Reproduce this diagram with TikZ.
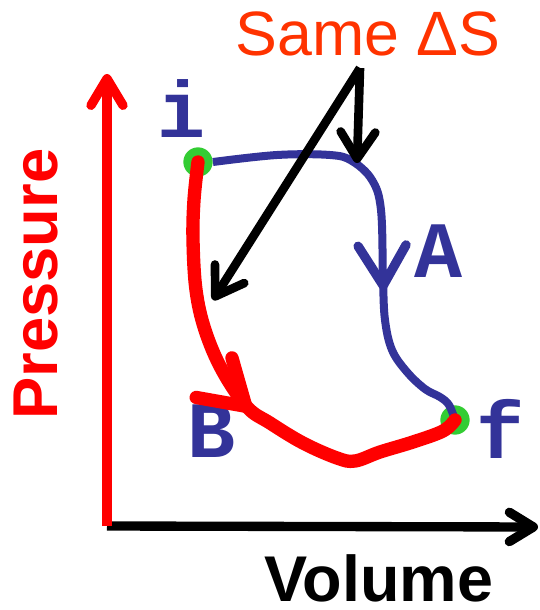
\documentclass[tikz,border=0pt]{standalone}
\usepackage{fontspec}
\setmainfont{Liberation Sans}
\newfontfamily\pvmono{Liberation Mono}
\definecolor{pvRed}{RGB}{255,0,0}
\definecolor{pvOrange}{RGB}{255,51,0}
\definecolor{pvBlue}{RGB}{51,51,153}
\definecolor{pvGreen}{RGB}{51,204,51}
\usetikzlibrary{arrows.meta,decorations.markings}

\begin{document}
\begin{tikzpicture}[x=0.75pt,y=-0.75pt,
  state/.style={circle, fill=pvGreen, minimum size=22pt, inner sep=0pt},
  lbl/.style={font=\pvmono\bfseries\fontsize{60}{60}\selectfont, text=pvBlue,
              anchor=base, inner sep=0pt},
  axis/.style={line width=7pt},
  pointer/.style={line width=6.5pt,
                  -{Straight Barb[round,length=20pt,width=26pt,line width=6.5pt]}},
  midarrow/.style 2 args={postaction={decorate}, decoration={markings,
      mark=at position #1 with {\arrow{Straight Barb[round,#2]}}}}
]
  \useasboundingbox (0,0) rectangle (539,610);

  % axes
  \coordinate (o)    at (107,526);
  \coordinate (ptop) at (107,74);
  \coordinate (vend) at (538,527);
  \draw[axis, black,
        -{Straight Barb[round,length=18pt,width=22pt,line width=7pt]}] (o) -- (vend);
  \draw[axis, pvRed,
        -{Straight Barb[round,length=20pt,width=24pt,line width=7pt]}] (o) -- (ptop);
  \node[rotate=90, font=\bfseries\fontsize{47.5}{47.5}\selectfont, text=pvRed,
        inner sep=0pt] (pres) at (36,284) {Pressure};
  \node[font=\bfseries\fontsize{48.5}{48.5}\selectfont, anchor=base,
        inner sep=0pt] (vol) at (379,601) {Volume};

  % states
  \node[state] (i) at (198,162) {};
  \node[state] (f) at (455,420) {};
  \node[lbl] (il) at (182,137) {i};
  \node[lbl] (al) at (438,277) {A};
  \node[lbl] (bl) at (212,457) {B};
  \node[lbl] (fl) at (500,458) {f};

  % path A
  \draw[pvBlue, line width=6pt, line join=round,
        midarrow={0.64}{length=30pt,width=36pt,line width=7pt}]
    plot[smooth, tension=0.6] coordinates {(i.east) (277,155) (330,155)
      (352,161) (372,180) (381,210) (383,280) (385,320) (392,350) (407,372)
      (425,389) (440,397) (449,405) (f.center)};

  % path B
  \draw[pvRed, line width=10pt, line cap=round, line join=round,
        midarrow={0.537}{length=32pt,width=40pt,line width=10pt}]
    plot[smooth, tension=0.6] coordinates {(i.center) (194,200) (193,240)
      (196,290) (205,330) (222,370) (247,407) (270,423) (303,443) (337,458)
      (355,461) (380,452) (413,442) (443,431) (f.center)};

  % same entropy change
  \node[font=\fontsize{47}{47}\selectfont, text=pvOrange, anchor=base,
        inner sep=0pt] (same) at (368,56) {Same ΔS};
  \coordinate (src) at (360,68);
  \coordinate (toA) at (357,163);
  \coordinate (toB) at (213,300);
  \draw[pointer] (src) -- (toA);
  \draw[pointer] (src) -- (toB);
\end{tikzpicture}
\end{document}
